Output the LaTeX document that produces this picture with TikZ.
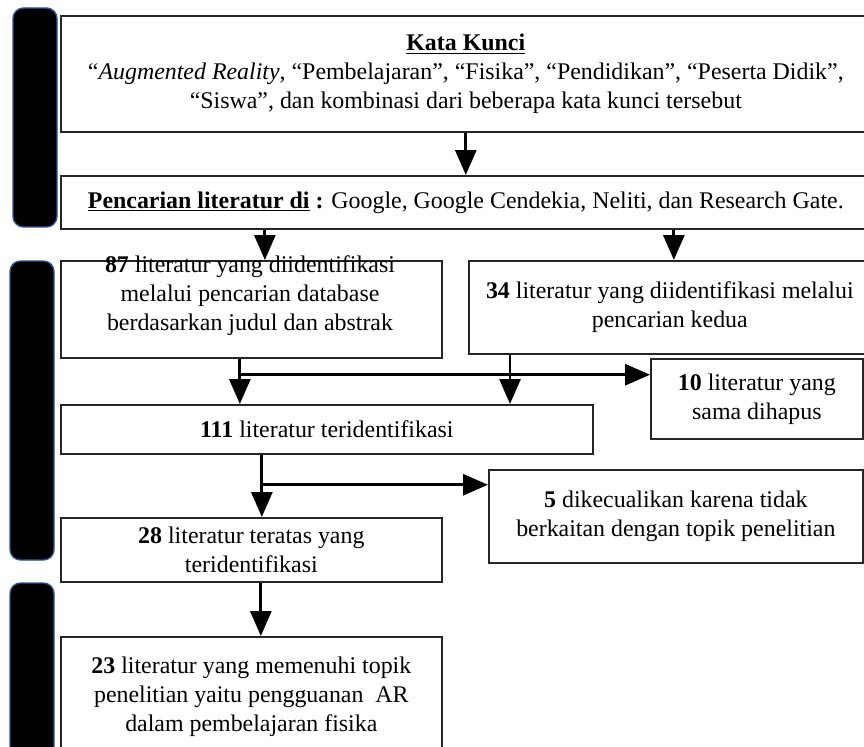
\documentclass[tikz,border=0pt]{standalone}
\usepackage{fontspec}
\setmainfont{Liberation Serif}
\usetikzlibrary{arrows.meta,calc}
\definecolor{barblue}{RGB}{47,85,151}
\tikzset{
  box/.style={draw=black!85, line width=1pt, align=center, anchor=north west, inner sep=1pt},
  sidebar/.style={fill=black, draw=barblue, line width=0.8pt, rounded corners=6pt},
  flow/.style={line width=1.7pt, -{Triangle[length=0.5cm,width=0.42cm]}},
}

\begin{document}
\begin{tikzpicture}[x=0.02cm, y=-0.02cm, font=\fontsize{13.6}{16.5}\selectfont]
            \clip (0,0) rectangle (864,746);
            \fill[white] (0,0) rectangle (864,746);
            \draw[sidebar] (13,8) rectangle (57,227);
            \draw[sidebar] (10,261) rectangle (54,560);
            \draw[sidebar] (10,583) rectangle (54,790);
            \node[box, minimum width=16.2cm, minimum height=2.32cm] (kata_kunci) at (60,15) {\underline{\textbf{Kata Kunci}} \\ “\textit{Augmented Reality}, “Pembelajaran”, “Fisika”, “Pendidikan”, “Peserta Didik”, \\ “Siswa”, dan kombinasi dari beberapa kata kunci tersebut};
            \node[box, minimum width=16.2cm, minimum height=1.06cm] (pencarian) at (60,175) {\underline{\textbf{Pencarian literatur di}}\textbf{ :} Google, Google Cendekia, Neliti, dan Research Gate.};
            \node[box, minimum width=7.62cm, minimum height=1.94cm] (lit87) at (60,260) {};
            \node[align=center] (lit87_text) at (250,296) {\textbf{87} literatur yang diidentifikasi \\ melalui pencarian database \\ berdasarkan judul dan abstrak};
            \node[box, minimum width=8.04cm, minimum height=1.86cm] (lit34) at (468,260) {\textbf{34} literatur yang diidentifikasi melalui \\ pencarian kedua};
            \node[box, minimum width=4.24cm, minimum height=1.6cm] (lit10) at (650,358) {\textbf{10} literatur yang \\ sama dihapus};
            \node[box, minimum width=10.64cm, minimum height=0.98cm] (lit111) at (60,404) {\textbf{111} literatur teridentifikasi};
            \node[box, minimum width=7.48cm, minimum height=1.86cm] (lit5) at (488,469) {\textbf{5} dikecualikan karena tidak \\ berkaitan dengan topik penelitian};
            \node[box, minimum width=7.62cm, minimum height=1.28cm] (lit28) at (60,517) {\textbf{28} literatur teratas yang \\ teridentifikasi};
            \node[box, minimum width=7.62cm, minimum height=2.38cm] (lit23) at (60,636) {\textbf{23} literatur yang memenuhi topik \\ penelitian yaitu pengguanan\ \ AR \\ dalam pembelajaran fisika};
            \coordinate (split_a) at ($([xshift=-0.23cm]lit87.south)+(0,16)$);
            \coordinate (split_b) at ($([xshift=0.21cm]lit28.north |- lit111.south)+(0,30)$);
            \draw[flow] (kata_kunci) -- (pencarian);
            \draw[flow] ([xshift=0.27cm]lit87.north |- pencarian.south) -- ([xshift=0.27cm]lit87.north);
            \draw[flow] ([xshift=0.08cm]lit34.north |- pencarian.south) -- ([xshift=0.08cm]lit34.north);
            \draw[flow] ([xshift=-0.23cm]lit87.south) -- ([xshift=-0.23cm]lit87.south |- lit111.north);
            \draw[flow] (split_a) -- (split_a -| lit10.west);
            \draw[flow] ([xshift=0.84cm]lit34.south west) -- ([xshift=0.84cm]lit34.south west |- lit111.north);
            \draw[flow] ([xshift=0.21cm]lit28.north |- lit111.south) -- ([xshift=0.21cm]lit28.north);
            \draw[flow] (split_b) -- (split_b -| lit5.west);
            \draw[flow] ([xshift=0.19cm]lit28.south) -- ([xshift=0.19cm]lit28.south |- lit23.north);
        \end{tikzpicture}
\end{document}
